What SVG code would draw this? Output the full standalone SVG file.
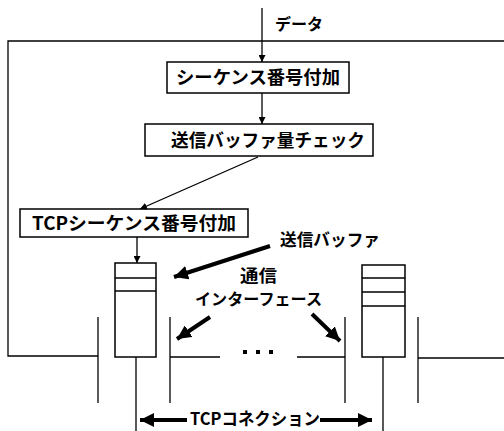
<svg xmlns="http://www.w3.org/2000/svg" width="504" height="431" viewBox="0 0 504 431">
<style>
.ln{stroke:#000;stroke-width:1.3;fill:none}
.bx{stroke:#000;stroke-width:1.5;fill:#fff}
.th{stroke:#000;stroke-width:4;fill:none}
text{font-family:"Noto Sans CJK JP","Liberation Sans",sans-serif;font-weight:bold;fill:#000}
</style>
<defs>
<marker id="a" viewBox="0 0 10 10" refX="10" refY="5" markerWidth="7" markerHeight="7" markerUnits="userSpaceOnUse" orient="auto"><path d="M0,0L10,5L0,10z" fill="#000"/></marker>
<marker id="b" viewBox="0 0 10 10" refX="10" refY="5" markerWidth="3.5" markerHeight="3.5" orient="auto"><path d="M0,0L10,5L0,10z" fill="#000"/></marker>
</defs>
<rect width="504" height="431" fill="#fff"/>
<g id="frame">
<path class="ln" d="M504,41H8V356H98"/>
<path class="ln" d="M418,358H504"/>
<path class="ln" d="M98,317V403M170,317V403M345,317V403M418,317V403"/>
<path class="ln" d="M170,357H220M297,357H345"/>
<g fill="#000"><rect x="243" y="350" width="4" height="4"/><rect x="256" y="350" width="4" height="4"/><rect x="269" y="350" width="4" height="4"/></g>
<path class="ln" d="M136,357V431M383,357V431"/>
</g>
<g id="n1"><rect class="bx" x="167" y="62" width="182" height="31"/><text x="258" y="84" font-size="18" text-anchor="middle" textLength="164" lengthAdjust="spacingAndGlyphs">シーケンス番号付加</text></g>
<g id="n2"><rect class="bx" x="145" y="124" width="228" height="32"/><text x="268" y="147" font-size="18" text-anchor="middle" textLength="194" lengthAdjust="spacingAndGlyphs">送信バッファ量チェック</text></g>
<g id="n3"><rect class="bx" x="20" y="209" width="228" height="28"/><text x="134" y="230" font-size="18" text-anchor="middle" textLength="204" lengthAdjust="spacingAndGlyphs">TCPシーケンス番号付加</text></g>
<g id="buf1"><rect class="bx" x="115" y="263" width="41" height="94"/><path class="ln" d="M115,278H156M115,291H156"/></g>
<g id="buf2"><rect class="bx" x="362" y="265" width="43" height="92"/><path class="ln" d="M362,278H405M362,292H405M362,306H405"/></g>
<g id="labels">
<text x="275" y="30" font-size="16" textLength="48" lengthAdjust="spacingAndGlyphs">データ</text>
<text x="280" y="246" font-size="17" textLength="100" lengthAdjust="spacingAndGlyphs">送信バッファ</text>
<text x="240" y="282" font-size="17" textLength="37" lengthAdjust="spacingAndGlyphs">通信</text>
<text x="195" y="305" font-size="16" textLength="127" lengthAdjust="spacingAndGlyphs">インターフェース</text>
<text x="190" y="425" font-size="17" textLength="130" lengthAdjust="spacingAndGlyphs">TCPコネクション</text>
</g>
<g id="connectors">
<path class="ln" d="M262,8V62" marker-end="url(#a)"/>
<path class="ln" d="M262,93V124" marker-end="url(#a)"/>
<path class="ln" d="M258,157L140,209" marker-end="url(#a)"/>
<path class="ln" d="M137,237V263" marker-end="url(#a)"/>
<path class="th" d="M270,246L174,277" marker-end="url(#b)"/>
<path class="th" d="M210,317L177,339" marker-end="url(#b)"/>
<path class="th" d="M312,314L340,341" marker-end="url(#b)"/>
<path class="th" d="M187,420H140" marker-end="url(#b)"/>
<path class="th" d="M320,420H372" marker-end="url(#b)"/>
</g>
</svg>
